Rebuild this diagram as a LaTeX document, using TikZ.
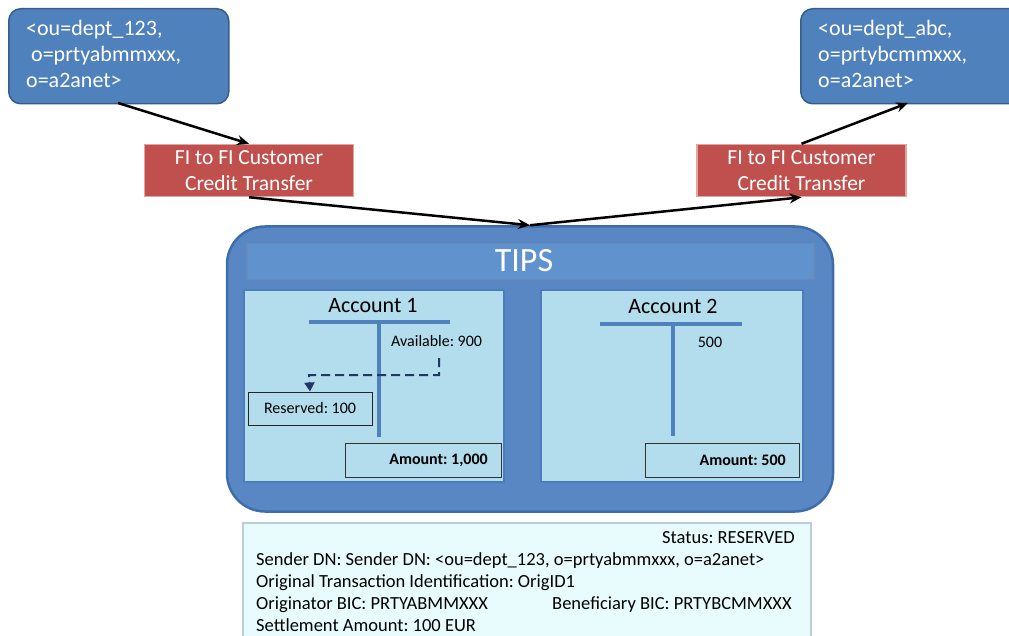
\documentclass[tikz,border=0pt]{standalone}
\usepackage{fontspec}
\setmainfont{Carlito}
\usetikzlibrary{arrows.meta,positioning}
\definecolor{boxblue}{HTML}{4F81BD}
\definecolor{boxblueedge}{HTML}{385D8A}
\definecolor{tipsblue}{HTML}{5887C4}
\definecolor{tipsedge}{HTML}{3F6DAA}
\definecolor{barblue}{HTML}{6092CD}
\definecolor{redbox}{HTML}{C0504D}
\definecolor{rededge}{HTML}{E3A3A1}
\definecolor{panel}{HTML}{B3DDEC}
\definecolor{paneledge}{HTML}{4A7DBA}
\definecolor{tline}{HTML}{4F81BD}
\definecolor{navy}{HTML}{1F3864}
\definecolor{infofill}{HTML}{E8FCFE}
\definecolor{infoedge}{HTML}{B9CDDC}
\tikzset{
  dnbox/.style={draw=boxblueedge, line width=1.5pt, fill=boxblue, rounded corners=12pt, anchor=north west, inner sep=0pt},
  dntext/.style={anchor=north west, text=white, font=\fontsize{22}{26}\selectfont, align=left, inner sep=0pt},
  msgbox/.style={draw=rededge, line width=1.5pt, fill=redbox, text=white, font=\fontsize{21.5}{26}\selectfont, align=center, minimum width=209pt, minimum height=52pt, inner sep=0pt},
  flow/.style={line width=2.5pt, -{Stealth[length=12pt,width=10pt]}},
  panelbox/.style={fill=panel, draw=paneledge, line width=1.5pt},
  amtbox/.style={draw=black!80, line width=1pt, fill=panel, inner sep=0pt, minimum height=34pt},
  amttext/.style={font=\fontsize{16}{18}\selectfont\bfseries, anchor=east, inner sep=0pt},
  tstroke/.style={draw=tline, line width=4pt},
  small/.style={font=\fontsize{16}{18}\selectfont, inner sep=0pt},
  acctitle/.style={font=\fontsize{22}{24}\selectfont, inner sep=0pt},
  info/.style={font=\fontsize{18.5}{20}\selectfont, inner sep=0pt, anchor=base west}
}
\begin{document}
\frenchspacing
\begin{tikzpicture}[x=1pt,y=-1pt]
\useasboundingbox (0,0) rectangle (1009,636);
% top DN boxes
\node[dnbox, minimum width=220pt, minimum height=95pt] (dnA) at (8,8) {};
\node[dntext] (dnAt) at (26,20) {<ou=dept\_123,\\\ o=prtyabmmxxx,\\o=a2anet>};
\node[dnbox, minimum width=230pt, minimum height=95pt] (dnB) at (800,8) {};
\node[dntext] (dnBt) at (818,20) {<ou=dept\_abc,\\o=prtybcmmxxx,\\o=a2anet>};
% message boxes
\node[msgbox] (msgA) at (249,170.5) {FI to FI Customer\\Credit Transfer};
\node[msgbox] (msgB) at (801.5,170.5) {FI to FI Customer\\Credit Transfer};
% TIPS container
\node[draw=tipsedge, line width=2.5pt, fill=tipsblue, rounded corners=38pt, minimum width=606pt, minimum height=285pt, inner sep=0pt] (tips) at (530,369) {};
\node[fill=barblue, draw=tipsedge!80, line width=1.5pt, minimum width=567pt, minimum height=36pt, inner sep=0pt] (bar) at (530.5,261.5) {};
\node[text=white, font=\fontsize{34}{36}\selectfont, inner sep=0pt] (tipst) at (524,261) {TIPS};
% panels
\node[panelbox, minimum width=260pt, minimum height=192pt, inner sep=0pt] (acc1) at (374,386) {};
\node[panelbox, minimum width=262pt, minimum height=192pt, inner sep=0pt] (acc2) at (672,386) {};
% Account 1
\node[acctitle] (a1t) at (373,306) {Account 1};
\draw[tstroke] (309,322) -- (450,322);
\draw[tstroke] (379,322) -- (379,437);
\node[small, anchor=west] (avail) at (391,341) {Available: 900};
\node[draw=black!85, line width=1pt, fill=panel, minimum width=124pt, minimum height=33pt, inner sep=0pt, font=\fontsize{16}{18}\selectfont] (res) at (310,408.5) {Reserved: 100};
\coordinate (dstart) at (439,358);
\draw[navy, line width=2pt, dash pattern=on 9pt off 5pt, -{Triangle[length=9pt,width=10pt]}] (dstart) |- (309,375) -- (res.north);
\node[amtbox, minimum width=156pt] (amt1) at (423,460) {};
\node[amttext] (amt1t) at (488,460) {Amount: 1,000};
% Account 2
\node[acctitle] (a2t) at (673,306) {Account 2};
\draw[tstroke] (600,324) -- (742,324);
\draw[tstroke] (673,324) -- (673,436);
\node[small] (v500) at (710,342) {500};
\node[amtbox, minimum width=154pt] (amt2) at (722,460) {};
\node[amttext] (amt2t) at (786,460) {Amount: 500};
% flow arrows
\draw[flow] (118,103) -- (msgA.north);
\draw[flow] (msgA.south) -- (tips.north);
\draw[flow] (tips.north) -- (msgB.south);
\draw[flow] (msgB.north) -- (908,103);
% info box
\node[fill=infofill, draw=infoedge, line width=2pt, minimum width=568pt, minimum height=118pt, inner sep=0pt, anchor=north west] (infobox) at (242,522) {};
\node[font=\fontsize{18.5}{20}\selectfont, inner sep=0pt, anchor=base east] (st) at (795,543) {Status: RESERVED};
\node[info] (l1) at (256,565) {Sender DN: Sender DN: <ou=dept\_123, o=prtyabmmxxx, o=a2anet>};
\node[info] (l2) at (256,587) {Original Transaction Identification: OrigID1};
\node[info] (l3) at (256,609) {Originator BIC: PRTYABMMXXX};
\node[info] (l3b) at (552,609) {Beneficiary BIC: PRTYBCMMXXX};
\node[info] (l4) at (256,631) {Settlement Amount: 100 EUR};
\end{tikzpicture}
\end{document}
